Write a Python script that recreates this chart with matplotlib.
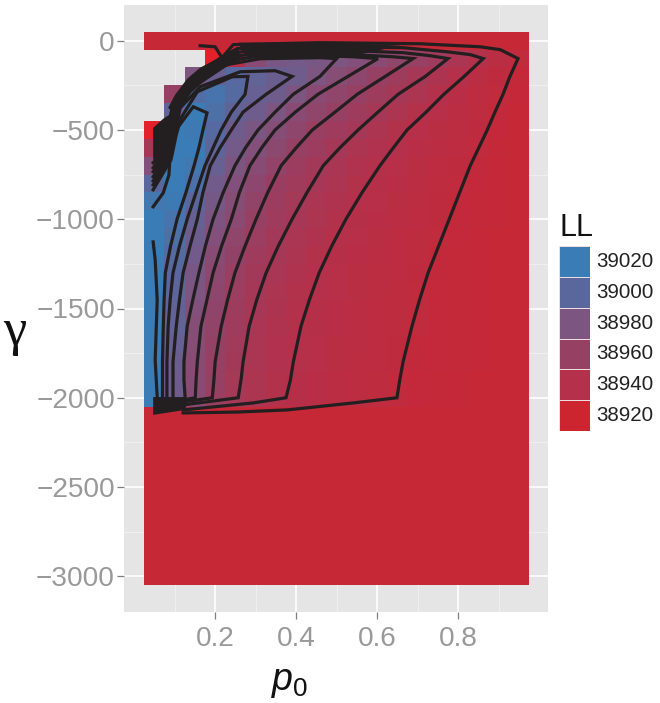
import numpy as np
import matplotlib
matplotlib.use('Agg')
import matplotlib.pyplot as plt
from matplotlib.colors import LinearSegmentedColormap, Normalize

plt.rcParams['font.family'] = ['Liberation Sans', 'DejaVu Sans']
plt.rcParams['mathtext.fontset'] = 'custom'
plt.rcParams['mathtext.rm'] = 'Liberation Sans'
plt.rcParams['mathtext.it'] = 'Liberation Sans:italic'

# tile grid: LL minus 38900, one row per gamma, nan where the grid is empty
nan = np.nan
p0_values = [.05, .1, .15, .2, .25, .3, .35, .4, .45, .5, .55, .6, .65, .7, .75, .8, .85, .9, .95]
gamma_edges = [50, -50, -150, -250, -350, -450, -550, -650, -750, -850, -950, -1050, -1150,
               -1250, -1350, -1450, -1550, -1650, -1750, -1850, -1950, -2050, -3050]
ll_rows = [
    [25, 25, 25, 25, 25, 25, 25, 25, 25, 25, 25, 25, 25, 25, 25, 25, 25, 25, 25],
    [nan, nan, nan, 0, 40, 70, 82, 85, 82, 80, 75, 70, 65, 60, 55, 47, 42, 36, 30],
    [nan, nan, 80, 90, 102, 95, 90, 88, 80, 72, 67, 60, 55, 50, 45, 40, 35, 31, 27],
    [nan, 60, 105, 112, 103, 92, 88, 80, 70, 65, 60, 55, 50, 46, 41, 37, 33, 30, 26],
    [nan, 95, 125, 108, 96, 88, 80, 70, 65, 60, 55, 50, 46, 41, 38, 35, 32, 29, 25],
    [0, 120, 118, 103, 88, 81, 73, 66, 59, 54, 50, 46, 42, 38, 36, 34, 31, 28, 25],
    [50, 122, 120, 98, 85, 75, 68, 60, 56, 50, 46, 43, 40, 37, 35, 33, 30, 27, 25],
    [75, 122, 115, 92, 80, 71, 63, 56, 52, 48, 44, 41, 38, 36, 33, 31, 29, 26, 25],
    [100, 120, 109, 87, 75, 67, 58, 53, 49, 46, 42, 39, 37, 35, 32, 30, 28, 26, 25],
    [115, 118, 100, 83, 72, 63, 56, 51, 47, 44, 40, 38, 36, 34, 31, 29, 27, 26, 25],
    [122, 112, 92, 79, 69, 60, 54, 49, 46, 42, 39, 37, 35, 33, 31, 29, 27, 26, 25],
    [122, 108, 89, 75, 65, 57, 52, 47, 44, 40, 38, 36, 34, 32, 30, 28, 26, 25, 25],
    [122, 104, 86, 71, 62, 54, 50, 46, 42, 39, 37, 35, 33, 32, 29, 27, 26, 25, 25],
    [122, 100, 82, 68, 59, 52, 48, 44, 41, 38, 36, 34, 33, 31, 29, 27, 26, 25, 25],
    [122, 98, 80, 66, 57, 50, 46, 42, 40, 38, 36, 34, 32, 30, 28, 27, 26, 25, 25],
    [122, 96, 76, 64, 55, 49, 45, 41, 39, 37, 35, 33, 32, 30, 28, 27, 26, 25, 25],
    [122, 95, 73, 63, 54, 48, 44, 41, 39, 37, 35, 33, 32, 30, 28, 27, 26, 25, 25],
    [122, 92, 72, 61, 53, 47, 43, 40, 38, 36, 35, 33, 31, 29, 28, 27, 26, 25, 25],
    [122, 90, 71, 60, 52, 47, 43, 40, 38, 36, 34, 33, 31, 29, 28, 27, 26, 25, 25],
    [122, 89, 70, 60, 51, 46, 42, 39, 37, 35, 34, 32, 30, 28, 27, 26, 25, 25, 25],
    [122, 88, 70, 59, 51, 46, 42, 39, 37, 35, 34, 32, 30, 28, 27, 26, 25, 25, 25],
    [25, 25, 25, 25, 25, 25, 25, 25, 25, 25, 25, 25, 25, 25, 25, 25, 25, 25, 25],
]

# contour lines, tail -> top edge -> tip -> bottom edge
c1_p0 = [.163, .2, .217, .245, .459, .706, .854, .904, .948,
         .928, .911, .891, .872, .851, .83, .804, .778, .752, .726, .705, .686, .664, .656, .649,
         .541, .378, .254, .121]
c1_gamma = [-28, -34, -95, -22, -11, -17, -34, -50, -100,
            -200, -300, -400, -500, -600, -700, -850, -1000, -1150, -1300, -1450, -1600, -1800, -1900, -2000,
            -2029, -2068, -2080, -2085]

c2_p0 = [.047, .077, .091, .101, .128, .163, .207, .254, .311, .541, .664, .773, .83, .862,
         .815, .765, .721, .674, .64, .607, .563, .523, .488, .457, .433, .412, .393, .386, .375,
         .294, .121]
c2_gamma = [-684, -611, -404, -331, -247, -174, -107, -45, -34, -34, -39, -62, -78, -100,
            -200, -300, -400, -500, -600, -700, -850, -1000, -1150, -1300, -1450, -1600, -1800, -1900, -2000,
            -2029, -2068]

c3_p0 = [.047, .079, .094, .104, .131, .166, .21, .249, .311, .541, .664, .731, .775,
         .719, .652, .602, .553, .508, .467, .427, .39, .356, .326, .303, .284, .269, .264, .257,
         .121]
c3_gamma = [-712, -622, -415, -342, -253, -180, -112, -67, -50, -56, -67, -84, -100,
            -200, -300, -400, -500, -600, -700, -850, -1000, -1150, -1300, -1450, -1600, -1800, -1900, -2000,
            -2040]

c4_p0 = [.047, .081, .096, .106, .133, .168, .212, .242, .311, .459, .541, .64, .689,
         .62, .551, .496, .44, .40, .363, .33, .301, .274, .249, .231, .215, .2, .197, .193,
         .121]
c4_gamma = [-734, -639, -426, -353, -264, -191, -123, -90, -67, -67, -78, -90, -100,
            -200, -300, -400, -500, -600, -700, -850, -1000, -1150, -1300, -1450, -1600, -1800, -1900, -2000,
            -2023]

c5_p0 = [.047, .084, .099, .109, .136, .17, .215, .235, .311, .459, .541, .602,
         .528, .454, .398, .348, .315, .286, .26, .24, .216, .195, .18, .165, .156, .153, .151,
         .121]
c5_gamma = [-762, -650, -437, -365, -275, -202, -135, -112, -84, -84, -90, -100,
            -200, -300, -400, -500, -600, -700, -850, -1000, -1150, -1300, -1450, -1600, -1800, -1900, -2000,
            -2012]

c6_p0 = [.047, .086, .101, .111, .138, .173, .217, .227, .311, .459, .5,
         .459, .393, .348, .306, .275, .249, .22, .195, .176, .16, .145, .131, .123, .123, .126]
c6_gamma = [-785, -656, -449, -376, -286, -213, -140, -135, -101, -95, -100,
            -200, -300, -400, -500, -600, -700, -850, -1000, -1150, -1300, -1450, -1600, -1800, -1900, -2000]

c7_p0 = [.047, .089, .101, .114, .163, .262, .348, .39,
         .326, .269, .24, .212, .188, .17, .156, .138, .121, .112, .104, .096, .096, .096]
c7_gamma = [-807, -661, -510, -376, -258, -174, -168, -200,
            -300, -400, -500, -600, -700, -850, -1000, -1150, -1300, -1450, -1600, -1800, -1900, -2000]

c8_p0 = [.047, .091, .104, .116, .156, .242, .281,
         .274, .24, .215, .195, .175, .153, .131, .112, .096, .089, .084, .081, .081, .081]
c8_gamma = [-835, -667, -527, -432, -286, -202, -200,
            -300, -400, -500, -600, -700, -850, -1000, -1150, -1300, -1450, -1600, -1800, -1900, -2000]

c9_p0 = [.047, .072, .086, .089, .094, .146, .18,
         .17, .16, .148, .128, .106, .09, .077, .074, .072, .07, .07, .07]
c9_gamma = [-930, -852, -751, -628, -527, -370, -404,
            -500, -600, -700, -850, -1000, -1150, -1300, -1450, -1600, -1800, -1900, -2000]

c10_p0 = [.047, .052, .057, .052, .057]
c10_gamma = [-1127, -1228, -1452, -1788, -1996]

contours = [(c1_p0, c1_gamma), (c2_p0, c2_gamma), (c3_p0, c3_gamma), (c4_p0, c4_gamma), (c5_p0, c5_gamma),
            (c6_p0, c6_gamma), (c7_p0, c7_gamma), (c8_p0, c8_gamma), (c9_p0, c9_gamma), (c10_p0, c10_gamma)]

# places where the contours pile up into solid black
left_blob_p0 = [.047, .072, .091, .101, .094, .079, .047]
left_blob_gamma = [-488, -437, -409, -454, -611, -656, -667]
bottom_blob_p0 = [.047, .126, .133, .126, .047]
bottom_blob_gamma = [-1996, -1996, -2012, -2068, -2096]
top_band_p0 = [.257, .521, .657, .521, .385, .316, .274]
top_band_gamma = [-11, -11, -28, -95, -101, -107, -84]
diag_band_p0 = [.257, .232, .2, .163, .131, .101, .084, .094, .114, .143, .18, .225, .262]
diag_band_gamma = [-34, -62, -107, -151, -213, -303, -376, -398, -331, -275, -219, -151, -107]

legend_values = [38920, 38940, 38960, 38980, 39000, 39020]
x_ticks = [.2, .4, .6, .8]
x_minor = [.1, .3, .5, .7, .9]
y_ticks = [-3000, -2500, -2000, -1500, -1000, -500, 0]
y_minor = [-2750, -2250, -1750, -1250, -750, -250]

W, H = 660, 703
fig = plt.figure(figsize=(W / 100, H / 100), dpi=100)
ax = fig.add_axes([124 / W, (H - 612) / H, (548 - 124) / W, (612 - 5) / H])

colors = [(38900, '#E4202A'), (38920, '#CC2530'), (38940, '#B5304A'), (38960, '#964064'),
          (38980, '#7C5581'), (39000, '#5A679D'), (39020, '#3A7CB6')]
cmap = LinearSegmentedColormap.from_list('ll', [((v - 38900) / 120, c) for v, c in colors])
norm = Normalize(38900, 39020)

ax.set_facecolor('#E5E5E5')
ax.set_axisbelow(True)
ax.set_xticks(x_ticks)
ax.set_xticks(x_minor, minor=True)
ax.set_yticks(y_ticks)
ax.set_yticks(y_minor, minor=True)
ax.grid(which='major', color='white', lw=1.2)
ax.grid(which='minor', color='#F2F2F2', lw=0.6)

p0_edges = [p - .025 for p in p0_values] + [.975]
ll = 38900 + np.array(ll_rows, dtype=float)
ax.pcolormesh(p0_edges, gamma_edges, ll, cmap=cmap, norm=norm, shading='flat', zorder=2, rasterized=True)

for p, g in contours:
    ax.plot(p, g, color='#231F20', lw=2.3, solid_joinstyle='miter', zorder=3)
for p, g in [(left_blob_p0, left_blob_gamma), (bottom_blob_p0, bottom_blob_gamma),
             (top_band_p0, top_band_gamma), (diag_band_p0, diag_band_gamma)]:
    ax.fill(p, g, color='#231F20', lw=0, zorder=3)

ax.set_xlim(-.025, 1.022)
ax.set_ylim(-3200, 200)
for s in ax.spines.values():
    s.set_visible(False)
ax.tick_params(which='major', length=5, width=0.9, color='#7F7F7F', labelcolor='#999999', labelsize=20.2)
ax.tick_params(axis='y', pad=1.5)
ax.tick_params(axis='x', pad=5)
ax.tick_params(which='minor', length=0)
ax.set_xticklabels(['0.2', '0.4', '0.6', '0.8'])
ax.set_yticklabels(['\u22123000', '\u22122500', '\u22122000', '\u22121500', '\u22121000', '\u2212500', '0'])

fig.text(290 / W, 1 - 682 / H, r'$p_0$', fontsize=27, color='#111111', ha='center', va='center')
fig.text(15 / W, 1 - 332 / H, '\u03b3', fontsize=38, color='#111111', ha='center', va='center',
         family='Liberation Serif')

# legend
lax = fig.add_axes([559 / W, (H - 431) / H, 31 / W, 185 / H])
lax.pcolormesh([0, 1], np.arange(7), np.array(legend_values, dtype=float).reshape(-1, 1), cmap=cmap, norm=norm,
               edgecolors='#F0DDE0', linewidth=0.6)
lax.axis('off')
for i, v in enumerate(legend_values):
    lax.text(1.2, i + .5, str(v), fontsize=14.8, color='#222222', va='center', ha='left', clip_on=False)
fig.text(559 / W, 1 - 228 / H, 'LL', fontsize=22, color='#111111', ha='left', va='center')

fig.savefig('out.png', dpi=100)
